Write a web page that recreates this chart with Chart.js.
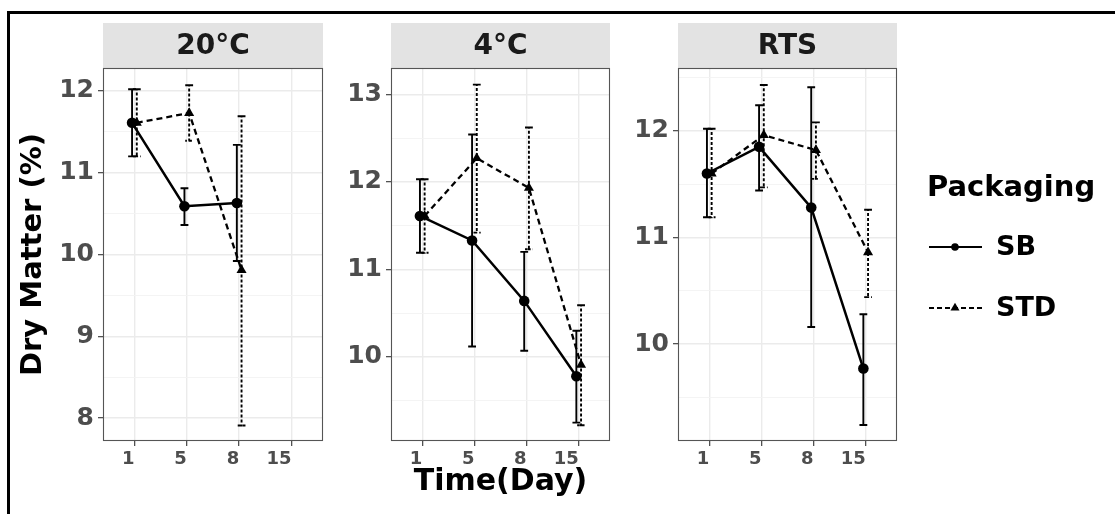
<!DOCTYPE html>
<html>
<head>
<meta charset="utf-8">
<script src="https://cdn.jsdelivr.net/npm/chart.js@4.4.1/dist/chart.umd.min.js"></script>
<style>
  html, body { margin: 0; padding: 0; background: #fff; width: 1115px; height: 514px; overflow: hidden; }
  #frame { position: absolute; left: 7px; top: 11px; width: 1200px; height: 600px;
           border-left: 3px solid #000; border-top: 3px solid #000; }
  canvas { position: absolute; top: 0; }
</style>
</head>
<body>
<div id="frame"></div>
<canvas id="c20" width="330" height="514" style="left:0px"></canvas>
<canvas id="c4" width="290" height="514" style="left:330px"></canvas>
<canvas id="crts" width="495" height="514" style="left:620px"></canvas>
<script>
// ---- data ---------------------------------------------------------------
const days = ['1', '5', '8', '15'];
const seriesNames = ['SB', 'STD'];
const legendTitle = 'Packaging';
const panelTitles = ['20°C', '4°C', 'RTS'];
const yAxisTitle = 'Dry Matter (%)';
const xAxisTitle = 'Time(Day)';

// 20°C
const sb20Mean  = [11.61, 10.59, 10.63, null];
const sb20Low   = [11.20, 10.36,  9.92, null];
const sb20High  = [12.02, 10.81, 11.34, null];
const std20Mean = [11.61, 11.73,  9.81, null];
const std20Low  = [11.20, 11.39,  7.91, null];
const std20High = [12.02, 12.07, 11.69, null];
const yRange20  = [7.72, 12.28];
const yTicks20  = [8, 9, 10, 11, 12];
const yMinor20  = [8.5, 9.5, 10.5, 11.5];

// 4°C
const sb4Mean  = [11.61, 11.33, 10.64,  9.78];
const sb4Low   = [11.19, 10.12, 10.07,  9.25];
const sb4High  = [12.03, 12.54, 11.20, 10.30];
const std4Mean = [11.61, 12.27, 11.93,  9.91];
const std4Low  = [11.19, 11.42, 11.23,  9.22];
const std4High = [12.03, 13.11, 12.62, 10.59];
const yRange4  = [9.04, 13.30];
const yTicks4  = [10, 11, 12, 13];
const yMinor4  = [9.5, 10.5, 11.5, 12.5];

// RTS
const sbRtsMean  = [11.60, 11.85, 11.28,  9.77];
const sbRtsLow   = [11.19, 11.44, 10.16,  9.24];
const sbRtsHigh  = [12.02, 12.24, 12.41, 10.28];
const stdRtsMean = [11.60, 11.96, 11.82, 10.86];
const stdRtsLow  = [11.19, 11.47, 11.55, 10.44];
const stdRtsHigh = [12.02, 12.43, 12.08, 11.26];
const yRangeRts  = [9.09, 12.59];
const yTicksRts  = [10, 11, 12];
const yMinorRts  = [9.5, 10.5, 11.5, 12.5];

// ---- styling ------------------------------------------------------------
const FONT = '"DejaVu Sans", sans-serif';
const DODGE = 0.045;        // horizontal dodge between the two packagings
const CAP = 0.075;          // half width of the error bar caps (x units)
const STRIP_TOP = 23;
const TICK_GREY = '#4D4D4D';

function points(means, shift) {
  return means.map((v, i) => (v == null ? null : { x: i + shift, y: v })).filter(Boolean);
}

function stripPlugin(text) {
  return {
    id: 'strip',
    beforeDraw(chart) {
      const { ctx, chartArea: a } = chart;
      ctx.save();
      ctx.fillStyle = '#E3E3E3';
      ctx.fillRect(a.left, STRIP_TOP, a.right - a.left, a.top - STRIP_TOP);
      ctx.fillStyle = '#1A1A1A';
      ctx.font = 'bold 28px ' + FONT;
      ctx.textAlign = 'center';
      ctx.textBaseline = 'middle';
      ctx.fillText(text, (a.left + a.right) / 2, (STRIP_TOP + a.top) / 2 + 1);
      ctx.restore();
    }
  };
}

function errorBarPlugin(series) {
  return {
    id: 'errorBars',
    beforeDatasetsDraw(chart) {
      const { ctx, scales: { x, y } } = chart;
      series.forEach(s => {
        ctx.save();
        ctx.strokeStyle = '#000';
        ctx.lineWidth = s.width;
        ctx.setLineDash(s.dash);
        s.low.forEach((lo, i) => {
          if (lo == null) return;
          const xc = x.getPixelForValue(i + s.shift);
          const x0 = x.getPixelForValue(i + s.shift - CAP);
          const x1 = x.getPixelForValue(i + s.shift + CAP);
          const yl = y.getPixelForValue(lo);
          const yh = y.getPixelForValue(s.high[i]);
          ctx.beginPath();
          ctx.moveTo(x0, yh); ctx.lineTo(x1, yh); ctx.lineTo(xc, yh);
          ctx.lineTo(xc, yl);
          ctx.lineTo(x0, yl); ctx.lineTo(x1, yl);
          ctx.stroke();
        });
        ctx.restore();
      });
    }
  };
}

const panelBorder = {
  id: 'panelBorder',
  afterDraw(chart) {
    const { ctx, chartArea: a } = chart;
    ctx.save();
    ctx.strokeStyle = '#555';
    ctx.lineWidth = 1.1;
    ctx.strokeRect(Math.round(a.left) + 0.5, Math.round(a.top) + 0.5,
                   Math.round(a.right - a.left) - 1, Math.round(a.bottom - a.top) - 1);
    ctx.restore();
  }
};

// legend of the packaging types, drawn beside the last panel
const legendPlugin = {
  id: 'packagingLegend',
  afterDraw(chart) {
    const ctx = chart.ctx;
    const lx0 = 309, lx1 = 362, mx = 335, tx = 376;
    const rows = [
      { y: 247, dash: [], shape: 'circle' },
      { y: 308, dash: [5, 3], shape: 'triangle' }
    ];
    ctx.save();
    ctx.fillStyle = '#000';
    ctx.textAlign = 'left';
    ctx.textBaseline = 'middle';
    ctx.font = 'bold 29px ' + FONT;
    ctx.fillText(legendTitle, 307, 188);
    ctx.font = 'bold 27px ' + FONT;
    rows.forEach((r, k) => {
      ctx.strokeStyle = '#000';
      ctx.lineWidth = 2.2;
      ctx.setLineDash(r.dash);
      ctx.beginPath(); ctx.moveTo(lx0, r.y); ctx.lineTo(lx1, r.y); ctx.stroke();
      ctx.setLineDash([]);
      ctx.beginPath();
      if (r.shape === 'circle') {
        ctx.arc(mx, r.y, 3.8, 0, Math.PI * 2);
      } else {
        const rad = 5.2;
        ctx.moveTo(mx, r.y - rad);
        ctx.lineTo(mx + rad * 0.866, r.y + rad / 2);
        ctx.lineTo(mx - rad * 0.866, r.y + rad / 2);
        ctx.closePath();
      }
      ctx.fill();
      ctx.fillText(seriesNames[k], tx, r.y + 1);
    });
    ctx.restore();
  }
};

function makePanel(id, cfg) {
  const isMinor = v => Math.abs(v - Math.round(v)) > 1e-6;
  const yAllTicks = cfg.yTicks.concat(cfg.yMinor).sort((a, b) => a - b);
  const plugins = [
    stripPlugin(cfg.title),
    errorBarPlugin([
      { low: cfg.sbLow, high: cfg.sbHigh, shift: -DODGE, width: 1.9, dash: [] },
      { low: cfg.stdLow, high: cfg.stdHigh, shift: DODGE, width: 1.9, dash: [3, 2] }
    ]),
    panelBorder
  ];
  if (cfg.legend) plugins.push(legendPlugin);

  return new Chart(document.getElementById(id), {
    type: 'line',
    data: {
      datasets: [
        {
          label: seriesNames[0],
          data: points(cfg.sbMean, -DODGE),
          borderColor: '#000', backgroundColor: '#000',
          borderWidth: 2.5, tension: 0,
          pointStyle: 'circle', pointRadius: 5.3, pointHoverRadius: 5.3,
          pointBorderWidth: 0, pointBackgroundColor: '#000'
        },
        {
          label: seriesNames[1],
          data: points(cfg.stdMean, DODGE),
          borderColor: '#000', backgroundColor: '#000',
          borderWidth: 2.3, borderDash: [6, 4], tension: 0,
          pointStyle: 'triangle', pointRadius: 5.8, pointHoverRadius: 5.8,
          pointBorderWidth: 0, pointBackgroundColor: '#000'
        }
      ]
    },
    options: {
      responsive: false,
      animation: false,
      devicePixelRatio: 1,
      events: [],
      layout: { padding: { top: 68, left: 0, right: cfg.padRight, bottom: 0 } },
      plugins: { legend: { display: false }, tooltip: { enabled: false } },
      scales: {
        x: {
          type: 'linear',
          min: -0.6, max: 3.6,
          afterBuildTicks: s => { s.ticks = days.map((d, i) => ({ value: i })); },
          afterFit: s => { s.height = 73; },
          border: { display: false },
          grid: { color: '#EBEBEB', lineWidth: 1.4, tickLength: 5, tickColor: '#333', tickWidth: 1.1 },
          ticks: {
            callback: v => days[v],
            align: 'end', padding: 3, autoSkip: false, maxRotation: 0,
            color: TICK_GREY, font: { family: FONT, weight: 'bold', size: 18 }
          },
          title: {
            display: !!cfg.xTitle, text: xAxisTitle, color: '#000',
            font: { family: FONT, weight: 'bold', size: 30 },
            padding: { top: 0, bottom: 14 }
          }
        },
        y: {
          type: 'linear',
          min: cfg.yRange[0], max: cfg.yRange[1],
          afterBuildTicks: s => { s.ticks = yAllTicks.map(v => ({ value: v })); },
          afterFit: s => { s.width = cfg.yWidth; },
          border: { display: false },
          grid: {
            color: c => (c.tick && isMinor(c.tick.value) ? '#F3F3F3' : '#EBEBEB'),
            lineWidth: c => (c.tick && isMinor(c.tick.value) ? 0.9 : 1.4),
            tickColor: c => (c.tick && isMinor(c.tick.value) ? 'rgba(0,0,0,0)' : '#333'),
            tickLength: 5, tickWidth: 1.1
          },
          ticks: {
            callback: v => (isMinor(v) ? '' : String(v)),
            padding: 4, autoSkip: false,
            color: TICK_GREY, font: { family: FONT, weight: 'bold', size: 25 }
          },
          title: {
            display: !!cfg.yTitle, text: yAxisTitle, color: '#000',
            font: { family: FONT, weight: 'bold', size: 29 },
            padding: { top: 16, bottom: 0 }
          }
        }
      }
    },
    plugins
  });
}

makePanel('c20', {
  title: panelTitles[0],
  sbMean: sb20Mean, sbLow: sb20Low, sbHigh: sb20High,
  stdMean: std20Mean, stdLow: std20Low, stdHigh: std20High,
  yRange: yRange20, yTicks: yTicks20, yMinor: yMinor20,
  yWidth: 103, padRight: 7, yTitle: true
});

makePanel('c4', {
  title: panelTitles[1],
  sbMean: sb4Mean, sbLow: sb4Low, sbHigh: sb4High,
  stdMean: std4Mean, stdLow: std4Low, stdHigh: std4High,
  yRange: yRange4, yTicks: yTicks4, yMinor: yMinor4,
  yWidth: 61, padRight: 10, xTitle: true
});

makePanel('crts', {
  title: panelTitles[2],
  sbMean: sbRtsMean, sbLow: sbRtsLow, sbHigh: sbRtsHigh,
  stdMean: stdRtsMean, stdLow: stdRtsLow, stdHigh: stdRtsHigh,
  yRange: yRangeRts, yTicks: yTicksRts, yMinor: yMinorRts,
  yWidth: 58, padRight: 218, legend: true
});
</script>
</body>
</html>
